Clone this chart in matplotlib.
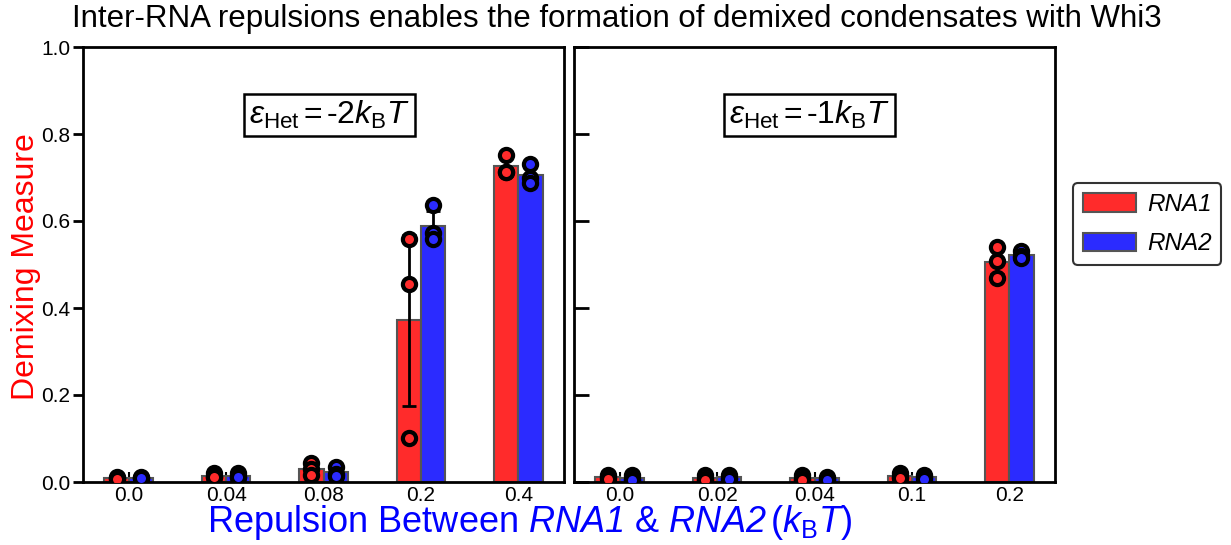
import numpy as np
import matplotlib
matplotlib.use('Agg')
import matplotlib.pyplot as plt
from matplotlib.patches import Patch

plt.rcParams['font.family'] = ['Liberation Sans', 'DejaVu Sans']
plt.rcParams['mathtext.fontset'] = 'custom'
plt.rcParams['mathtext.rm'] = 'Liberation Sans'
plt.rcParams['mathtext.it'] = 'Liberation Sans:italic'
plt.rcParams['mathtext.sf'] = 'Liberation Sans:italic'
plt.rcParams['mathtext.bf'] = 'Liberation Sans:bold'

# ---------------- data ----------------
left_categories = ['0.0', '0.04', '0.08', '0.2', '0.4']
right_categories = ['0.0', '0.02', '0.04', '0.1', '0.2']

left_rna1_points = [[0.012, 0.010, 0.008],
                    [0.020, 0.012, 0.011],
                    [0.044, 0.030, 0.017],
                    [0.559, 0.455, 0.101],
                    [0.752, 0.713, 0.713]]
left_rna2_points = [[0.011, 0.010, 0.009],
                    [0.020, 0.012, 0.011],
                    [0.035, 0.018, 0.013],
                    [0.637, 0.572, 0.559],
                    [0.731, 0.699, 0.687]]
right_rna1_points = [[0.017, 0.011, 0.008],
                     [0.016, 0.008, 0.004],
                     [0.015, 0.008, 0.005],
                     [0.021, 0.012, 0.009],
                     [0.541, 0.508, 0.470]]
right_rna2_points = [[0.015, 0.008, 0.005],
                     [0.017, 0.010, 0.007],
                     [0.012, 0.008, 0.005],
                     [0.017, 0.011, 0.008],
                     [0.531, 0.520, 0.515]]

series_names = ['RNA1', 'RNA2']
panel_labels = [r'$\varepsilon_{\mathrm{Het}}$$\,$=$\,$-2$k_{\mathrm{B}}T$',
                r'$\varepsilon_{\mathrm{Het}}$$\,$=$\,$-1$k_{\mathrm{B}}T$']
title = 'Inter-RNA repulsions enables the formation of demixed condensates with Whi3'
ylabel = 'Demixing Measure'
xlabel = r'Repulsion Between $\mathsf{RNA1}$ & $\mathsf{RNA2}$$\,$($k_{\mathrm{B}}T$)'

RED = '#ff2b2b'
BLUE = '#2b2bff'
EDGE = '#555555'

W, H = 1231, 545
fig = plt.figure(figsize=(W / 100, H / 100), dpi=100)

ax_l = fig.add_axes([83 / W, 63 / H, 481 / W, 435 / H])
ax_r = fig.add_axes([574 / W, 63 / H, 481 / W, 435 / H])

bw = 0.25


def draw_panel(ax, cats, p1, p2):
    x = np.arange(len(cats))
    for pts, off, col in ((p1, -bw / 2, RED), (p2, bw / 2, BLUE)):
        arr = np.array(pts)
        mean = arr.mean(axis=1)
        sd = arr.std(axis=1)
        ax.bar(x + off, mean, width=bw, color=col, edgecolor=EDGE,
               linewidth=1.5, zorder=1)
        ax.errorbar(x + off, mean, yerr=sd, fmt='none', ecolor='black',
                    elinewidth=2, capsize=5, capthick=2, zorder=2)
        for i in range(len(cats)):
            ax.plot([x[i] + off] * arr.shape[1], arr[i], 'o', ms=9.5,
                    mfc=col, mec='black', mew=3, zorder=3, linestyle='none')
    ax.set_xticks(x)
    ax.set_xticklabels(cats)
    ax.set_xlim(-0.47, len(cats) - 1 + 0.47)
    ax.set_ylim(0, 1.0)
    ax.set_yticks(np.arange(0, 1.01, 0.2))
    ax.set_axisbelow(True)
    for s in ax.spines.values():
        s.set_linewidth(2)
    ax.tick_params(axis='x', direction='in', length=7, width=1.5,
                   labelsize=15, pad=3)


draw_panel(ax_l, left_categories, left_rna1_points, left_rna2_points)
draw_panel(ax_r, right_categories, right_rna1_points, right_rna2_points)

ax_l.set_yticklabels([f'{v:.1f}' for v in np.arange(0, 1.01, 0.2)])
ax_l.tick_params(axis='y', direction='out', length=7, width=2, labelsize=15,
                 pad=2)
ax_r.tick_params(axis='y', direction='in', length=11, width=2, labelleft=False)

box = dict(boxstyle='square,pad=0.15', fc='white', ec='black', lw=1.8)
ax_l.text(0.513, 0.844, panel_labels[0], transform=ax_l.transAxes,
          ha='center', va='center', fontsize=23, bbox=box, zorder=5)
ax_r.text(0.49, 0.844, panel_labels[1], transform=ax_r.transAxes,
          ha='center', va='center', fontsize=23, bbox=box, zorder=5)

fig.text(617 / W, 1 - 19 / H, title, ha='center', va='center', fontsize=22.5)
fig.text(26 / W, 1 - 267 / H, ylabel, rotation=90, ha='center', va='center',
         fontsize=23, color='#ff0000')
fig.text(530 / W, 3 / H, xlabel, ha='center', va='bottom',
         fontsize=26, color='#0000ff')

handles = [Patch(facecolor=RED, edgecolor=EDGE, linewidth=1.5),
           Patch(facecolor=BLUE, edgecolor=EDGE, linewidth=1.5)]
leg = fig.legend(handles, series_names, loc='upper left',
                 bbox_to_anchor=(1073 / W, 1 - 183 / H),
                 prop={'style': 'italic', 'size': 17.5},
                 handlelength=2.2, handleheight=0.8, frameon=True,
                 fancybox=True, edgecolor='#333333', framealpha=1,
                 borderpad=0.4, labelspacing=0.68, handletextpad=0.45,
                 borderaxespad=0)
leg.get_frame().set_linewidth(1.5)

fig.savefig('out.png', dpi=100)
